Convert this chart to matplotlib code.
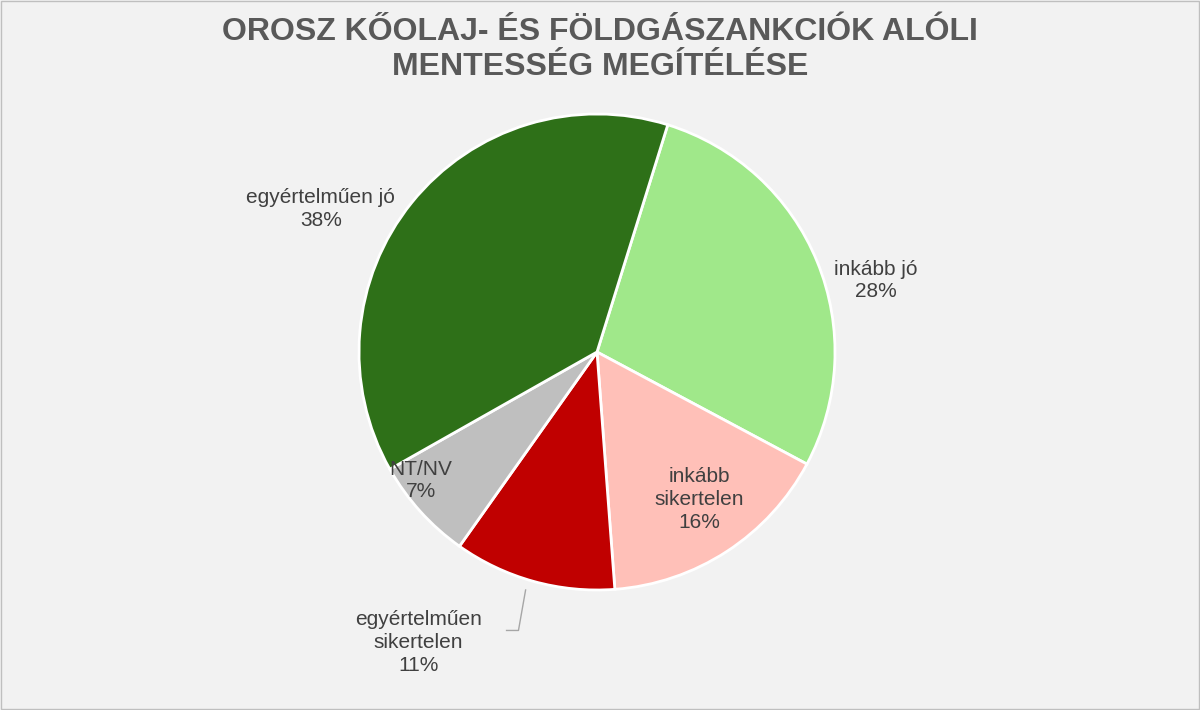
import matplotlib.pyplot as plt
import numpy as np

# adatok
labels = ['inkább jó', 'inkább\nsikertelen', 'egyértelműen\nsikertelen', 'NT/NV', 'egyértelműen jó']
values = [28, 16, 11, 7, 38]
colors = ['#A0E88A', '#FFC0B8', '#C00000', '#BFBFBF', '#2E7018']
label_pos = [(1.17, 0.30), (0.43, -0.62), (-0.75, -1.22), (-0.74, -0.54), (-1.16, 0.60)]

BG = '#F2F2F2'
TXT = '#404040'

fig = plt.figure(figsize=(12, 7.1), dpi=100)
fig.patch.set_facecolor(BG)
ax = fig.add_axes([359 / 1200, 120 / 710, 476 / 1200, 476 / 710])
ax.set_facecolor(BG)

ax.pie(values, colors=colors, startangle=72.7, counterclock=False,
       wedgeprops=dict(edgecolor='white', linewidth=2))
ax.set_xlim(-1, 1)
ax.set_ylim(-1, 1)
ax.set_aspect('equal')
ax.set_clip_on(False)

for lab, v, (x, y) in zip(labels, values, label_pos):
    ax.text(x, y, f"{lab}\n{v}%", ha='center', va='center', fontsize=15,
            color=TXT, linespacing=1.25, family='Liberation Sans')

# vezetővonal
ax.plot([-0.38, -0.33, -0.30], [-1.17, -1.17, -1.00], color='#A6A6A6', lw=1, clip_on=False)

fig.text(0.5, 0.93, "OROSZ KŐOLAJ- ÉS FÖLDGÁSZANKCIÓK ALÓLI\nMENTESSÉG MEGÍTÉLÉSE",
         ha='center', va='center', fontsize=23, fontweight='bold', color='#595959',
         family='Liberation Sans', linespacing=1.2)

fig.patches.append(plt.Rectangle((0.001, 0.001), 0.998, 0.998, transform=fig.transFigure,
                                 fill=False, edgecolor='#BFBFBF', lw=1))

fig.savefig('out.png', dpi=100, facecolor=BG)
